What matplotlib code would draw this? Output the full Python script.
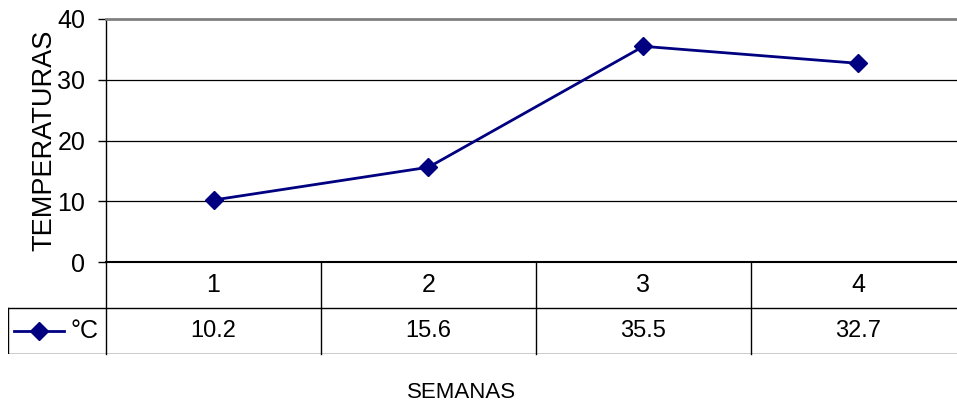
import matplotlib
matplotlib.use("Agg")
import matplotlib.pyplot as plt

plt.rcParams['font.family'] = ['Liberation Sans', 'DejaVu Sans']

semanas = ["1", "2", "3", "4"]
temperaturas = [10.2, 15.6, 35.5, 32.7]
serie = "°C"
y_ticks = [0, 10, 20, 30, 40]

W, H = 957, 408
FS = 17      # texto horizontal (el original es mas estrecho)
FS_Y = 19.5  # titulo del eje y
fig = plt.figure(figsize=(W / 100, H / 100), dpi=100)

# area del grafico (se sale un poco por la derecha, como en el original)
ax = fig.add_axes([106 / W, (H - 262) / H, 860 / W, 243 / H])
ax.set_xlim(0, len(semanas))
ax.set_ylim(0, 40)
ax.set_yticks(y_ticks)
ax.set_xticks([])
ax.tick_params(axis='y', length=6, width=1, pad=9, labelsize=FS + 1, direction='out')
for yv in y_ticks[1:-1]:
    ax.axhline(yv, color='black', lw=0.9)
ax.spines['right'].set_visible(False)
ax.spines['top'].set_color('#808080')
ax.spines['top'].set_linewidth(2)
ax.spines['left'].set_linewidth(1)
ax.spines['bottom'].set_linewidth(1.5)

xs = [i + 0.5 for i in range(len(semanas))]
ax.plot(xs, temperaturas, color='#000080', lw=2, marker='D', ms=9.5,
        markerfacecolor='#000080', markeredgecolor='#000080')

# tabla de datos
leg_w = 98 / 215
tx = fig.add_axes([8 / W, (H - 354) / H, 958 / W, 92 / H])
tx.set_xlim(-leg_w, len(semanas))
tx.set_ylim(2, 0)
tx.axis('off')
n = len(semanas)
for i in range(n + 1):
    tx.plot([i, i], [0, 2], color='black', lw=1, clip_on=False)
tx.plot([-leg_w, -leg_w], [1, 2], color='black', lw=1)
tx.plot([-leg_w, n], [1, 1], color='black', lw=1)
tx.plot([-leg_w, n], [2, 2], color='black', lw=1)
for i, (s, t) in enumerate(zip(semanas, temperaturas)):
    tx.text(i + 0.5, 0.5, s, ha='center', va='center', fontsize=FS + 1)
    tx.text(i + 0.5, 1.5, f"{t:.1f}", ha='center', va='center', fontsize=FS)
# leyenda dentro de la tabla
lx0 = -leg_w + 6 / 215
lx1 = -leg_w + 56 / 215
tx.plot([lx0, lx1], [1.5, 1.5], color='#000080', lw=2)
tx.plot([(lx0 + lx1) / 2], [1.5], marker='D', ms=9.5, color='#000080')
tx.text(-leg_w + 62 / 215, 1.5, serie, ha='left', va='center', fontsize=FS + 1)

fig.text(44 / W, 1 - 140 / H, "TEMPERATURAS", rotation=90, ha='center', va='center',
         fontsize=FS_Y)
fig.text(462 / W, 1 - 392 / H, "SEMANAS", ha='center', va='center', fontsize=FS - 1)

fig.savefig("out.png", dpi=100)
